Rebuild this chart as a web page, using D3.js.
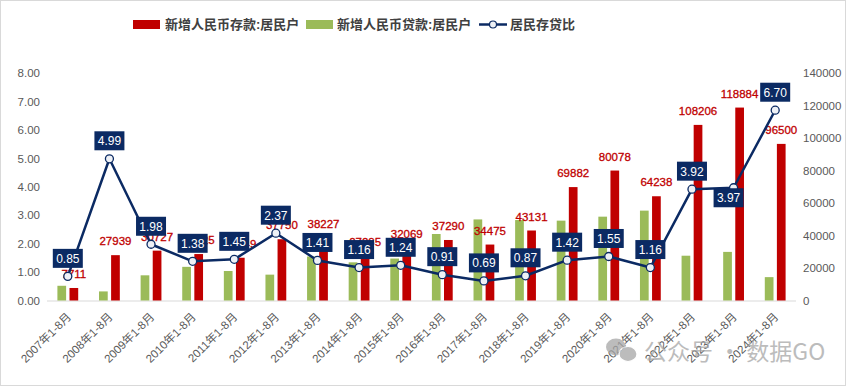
<!DOCTYPE html>
<html>
<head>
<meta charset="utf-8">
<script src="https://cdn.jsdelivr.net/npm/d3@7"></script>
<style>
  body { margin: 0; background: #fff; }
  svg { display: block; font-family: "Liberation Sans", "Noto Sans CJK SC", sans-serif; }
</style>
</head>
<body>
<svg id="chart" width="846" height="386"></svg>
<script>
// 数据
const categories = [
  "2007年1-8月", "2008年1-8月", "2009年1-8月", "2010年1-8月", "2011年1-8月", "2012年1-8月",
  "2013年1-8月", "2014年1-8月", "2015年1-8月", "2016年1-8月", "2017年1-8月", "2018年1-8月",
  "2019年1-8月", "2020年1-8月", "2021年1-8月", "2022年1-8月", "2023年1-8月", "2024年1-8月"
];
// 新增人民币存款:居民户 (亿元)
const deposits = [7711, 27939, 30727, 28625, 26349, 37750, 38227, 27285, 32069,
  37290, 34475, 43131, 69882, 80078, 64238, 108206, 118884, 96500];
// 新增人民币贷款:居民户 (亿元)
const loans = [9070, 5600, 15520, 20740, 18170, 15930, 27110, 23520, 25860,
  40980, 49960, 49580, 49210, 51660, 55380, 27600, 29950, 14400];
// 居民存贷比
const ratios = [0.85, 4.99, 1.98, 1.38, 1.45, 2.37, 1.41, 1.16, 1.24,
  0.91, 0.69, 0.87, 1.42, 1.55, 1.16, 3.92, 3.97, 6.70];
const leftTicks = [0, 1, 2, 3, 4, 5, 6, 7, 8];
const rightTicks = [0, 20000, 40000, 60000, 80000, 100000, 120000, 140000];

const RED = "#c00000", GREEN = "#9bbb59", NAVY = "#0b2a63", GREY = "#595959";

const svg = d3.select("#chart");

// 外框
svg.append("rect")
  .attr("x", 0.5).attr("y", 0.5)
  .attr("width", 845).attr("height", 385)
  .attr("fill", "#fff")
  .attr("stroke", "#d9d9d9");

const plot = { left: 47, right: 796, top: 73.3, bottom: 300.5 };

const x = d3.scaleBand()
  .domain(categories)
  .range([plot.left, plot.right])
  .paddingInner(0.5)
  .paddingOuter(0.25);

const sub = d3.scaleBand()
  .domain(["loan", "dep"])
  .range([0, x.bandwidth()])
  .paddingInner(0.28);

const yL = d3.scaleLinear().domain([0, 8]).range([plot.bottom, plot.top]);
const yR = d3.scaleLinear().domain([0, 140000]).range([plot.bottom, plot.top]);

// 左轴
const leftAxis = svg.append("g")
  .attr("transform", `translate(${plot.left - 7},0)`)
  .call(d3.axisLeft(yL).tickValues(leftTicks).tickFormat(d3.format(".2f")).tickSize(0).tickPadding(0));
leftAxis.select(".domain").remove();
leftAxis.selectAll("text").attr("fill", GREY).style("font-size", "11.5px");

// 右轴
const rightAxis = svg.append("g")
  .attr("transform", `translate(${plot.right + 7},0)`)
  .call(d3.axisRight(yR).tickValues(rightTicks).tickFormat(d3.format("d")).tickSize(0).tickPadding(0));
rightAxis.select(".domain").remove();
rightAxis.selectAll("text").attr("fill", GREY).style("font-size", "11.5px");

// 横轴
svg.append("line")
  .attr("x1", plot.left).attr("x2", plot.right)
  .attr("y1", plot.bottom + 0.5).attr("y2", plot.bottom + 0.5)
  .attr("stroke", "#d9d9d9");

svg.append("g").selectAll("text")
  .data(categories)
  .join("text")
  .attr("transform", d => `translate(${x(d) + x.bandwidth() / 2 + 4},${plot.bottom + 17}) rotate(-45)`)
  .attr("text-anchor", "end")
  .attr("fill", GREY)
  .style("font-size", "11.5px")
  .text(d => d);

// 柱子
const groups = svg.append("g").selectAll("g")
  .data(categories)
  .join("g")
  .attr("transform", d => `translate(${x(d)},0)`);

groups.append("rect")
  .attr("x", sub("loan"))
  .attr("width", sub.bandwidth())
  .attr("y", (d, i) => yR(loans[i]))
  .attr("height", (d, i) => plot.bottom - yR(loans[i]))
  .attr("fill", GREEN);

groups.append("rect")
  .attr("x", sub("dep"))
  .attr("width", sub.bandwidth())
  .attr("y", (d, i) => yR(deposits[i]))
  .attr("height", (d, i) => plot.bottom - yR(deposits[i]))
  .attr("fill", RED);

// 存款数值标签
groups.append("text")
  .attr("x", sub("dep") + sub.bandwidth() / 2)
  .attr("y", (d, i) => yR(deposits[i]) - 10)
  .attr("text-anchor", "middle")
  .attr("fill", RED)
  .attr("stroke", RED)
  .attr("stroke-width", 0.3)
  .style("font-size", "11.5px")
  .text((d, i) => deposits[i]);

// 存贷比折线
const cx = d => x(d) + x.bandwidth() / 2;
const line = d3.line()
  .x((d, i) => cx(categories[i]))
  .y(d => yL(d));

svg.append("path")
  .datum(ratios)
  .attr("fill", "none")
  .attr("stroke", NAVY)
  .attr("stroke-width", 2.5)
  .attr("stroke-linejoin", "round")
  .attr("d", line);

svg.append("g").selectAll("circle")
  .data(ratios)
  .join("circle")
  .attr("cx", (d, i) => cx(categories[i]))
  .attr("cy", d => yL(d))
  .attr("r", 4)
  .attr("fill", "#eef1f6")
  .attr("stroke", NAVY)
  .attr("stroke-width", 1.3);

// 存贷比标签 (深蓝底白字)
const boxW = 30, boxH = 19;
const labels = svg.append("g").selectAll("g")
  .data(ratios)
  .join("g")
  .attr("transform", (d, i) => {
    const below = categories[i] === "2023年1-8月";
    const bx = cx(categories[i]) + (below ? -5 : 0);
    const by = below ? yL(d) + boxH / 2 + 0.5 : yL(d) - 18;
    return `translate(${bx},${by})`;
  });

labels.append("rect")
  .attr("x", -boxW / 2).attr("y", -boxH / 2)
  .attr("width", boxW).attr("height", boxH)
  .attr("fill", NAVY);

labels.append("text")
  .attr("text-anchor", "middle")
  .attr("dy", "0.36em")
  .attr("fill", "#fff")
  .style("font-size", "12px")
  .text(d => d.toFixed(2));

// 图例
const legend = svg.append("g").style("font-size", "13px").style("font-weight", "bold");
legend.append("rect").attr("x", 133).attr("y", 20).attr("width", 27).attr("height", 9).attr("fill", RED);
legend.append("text").attr("x", 165).attr("y", 29).attr("fill", "#404040").text("新增人民币存款:居民户");
legend.append("rect").attr("x", 306).attr("y", 20).attr("width", 27).attr("height", 9).attr("fill", GREEN);
legend.append("text").attr("x", 337).attr("y", 29).attr("fill", "#404040").text("新增人民币贷款:居民户");
legend.append("line").attr("x1", 479).attr("x2", 507).attr("y1", 24.5).attr("y2", 24.5)
  .attr("stroke", NAVY).attr("stroke-width", 2.5);
legend.append("circle").attr("cx", 493).attr("cy", 24.5).attr("r", 3.5)
  .attr("fill", "#eef1f6").attr("stroke", NAVY).attr("stroke-width", 1.2);
legend.append("text").attr("x", 510).attr("y", 29).attr("fill", "#404040").text("居民存贷比");

// 水印
const wm = svg.append("g").attr("opacity", 0.75);
wm.append("ellipse").attr("cx", 616).attr("cy", 347).attr("rx", 10).attr("ry", 8.5).attr("fill", "#a6a6a6");
wm.append("ellipse").attr("cx", 628).attr("cy", 354).attr("rx", 9).attr("ry", 7.5).attr("fill", "#a6a6a6")
  .attr("stroke", "#fff").attr("stroke-width", 1.2);
wm.append("text")
  .attr("x", 644).attr("y", 360)
  .attr("fill", "#a6a6a6")
  .style("font-family", "'Noto Sans CJK SC', sans-serif")
  .style("font-size", "23px")
  .text("公众号 · 数据GO");
</script>
</body>
</html>
